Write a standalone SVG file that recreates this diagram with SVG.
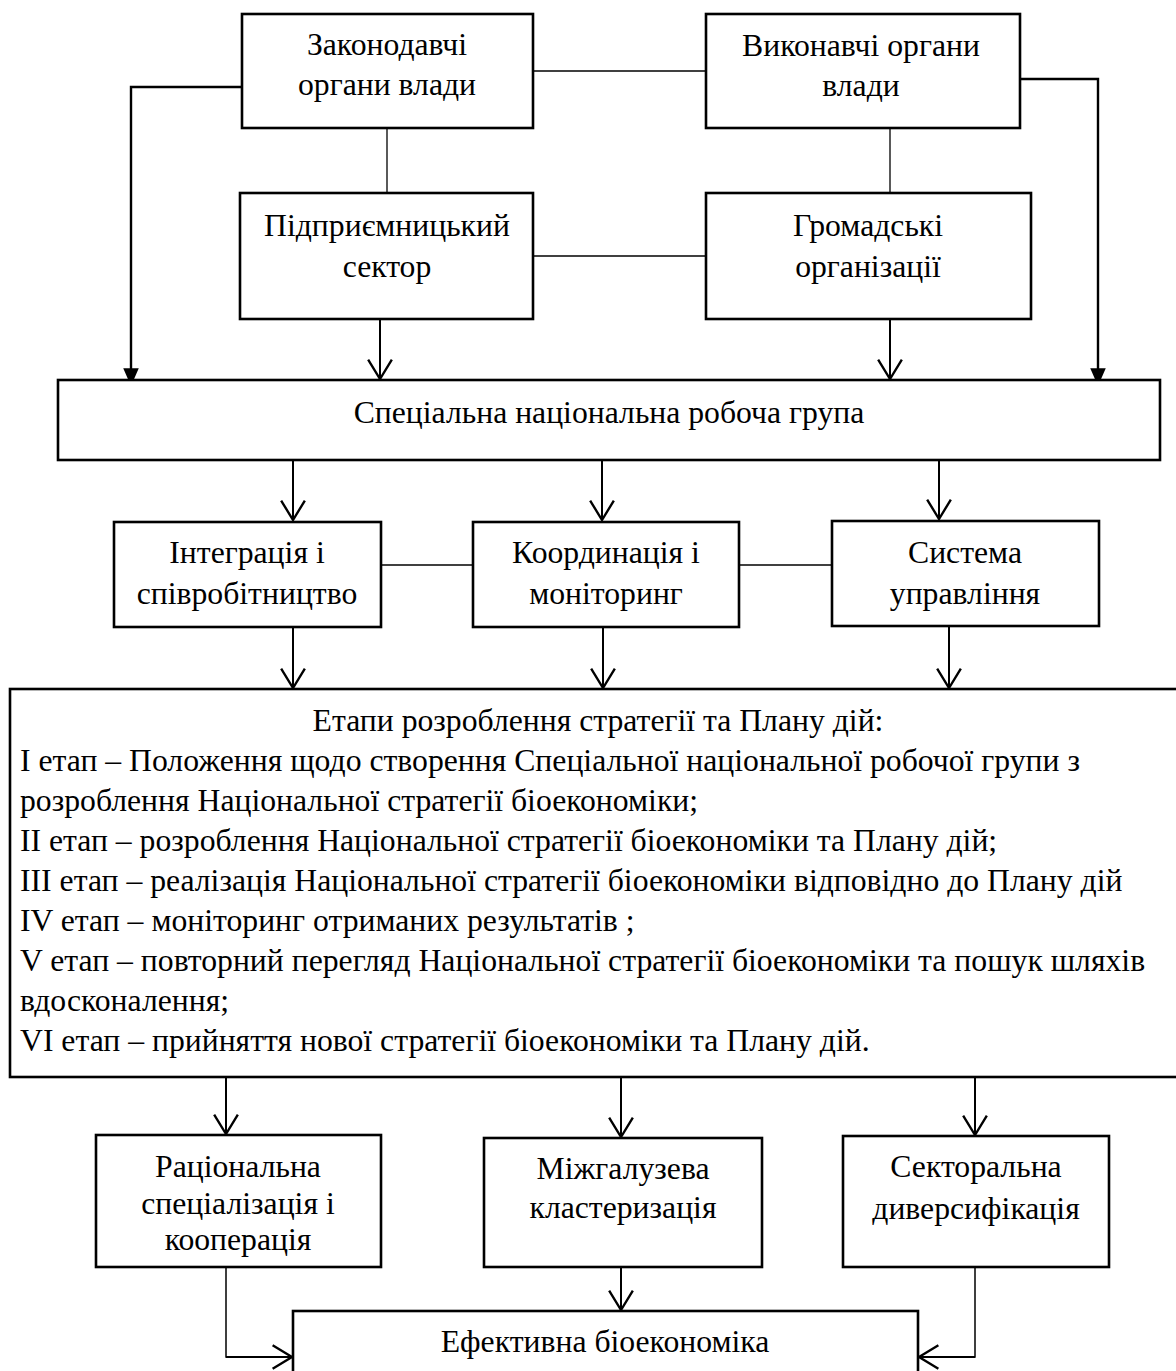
<svg xmlns="http://www.w3.org/2000/svg" width="1176" height="1371" viewBox="0 0 1176 1371">
  <style>
    .box { fill: #ffffff; stroke: #000000; stroke-width: 2.6; }
    text { font-family: "Liberation Serif", "Times New Roman", serif; font-size: 31.7px; fill: #000000; }
    .c { text-anchor: middle; }
    .link { stroke: #000000; stroke-width: 1.3; fill: none; }
    .arr { stroke: #000000; stroke-width: 2; fill: none; marker-end: url(#open); }
    .farr { stroke: #000000; stroke-width: 2.4; fill: none; marker-end: url(#solid); }
    .side { stroke: #000000; stroke-width: 1.5; fill: none; }
  </style>
  <defs>
    <marker id="open" markerUnits="userSpaceOnUse" markerWidth="24" markerHeight="28" viewBox="-20 -13 22 26" refX="0" refY="0" orient="auto" overflow="visible">
      <path d="M -18 -11 L 0 0 L -18 11" fill="none" stroke="#000000" stroke-width="2.2"/>
    </marker>
    <marker id="solid" markerUnits="userSpaceOnUse" markerWidth="20" markerHeight="20" viewBox="-17 -8 18 16" refX="0" refY="0" orient="auto" overflow="visible">
      <path d="M -16 -7 L 0 0 L -16 7 Z" fill="#000000" stroke="none"/>
    </marker>
  </defs>

  <rect width="1176" height="1371" fill="#ffffff"/>

  <!-- connectors -->
  <g id="connectors">
    <!-- plain links between partner bodies -->
    <line class="link" x1="533" y1="71" x2="706" y2="71"/>
    <line class="link" x1="387" y1="128" x2="387" y2="193"/>
    <line class="link" x1="890" y1="128" x2="890" y2="193"/>
    <line class="link" x1="533" y1="256" x2="706" y2="256"/>
    <line class="link" x1="381" y1="565" x2="473" y2="565"/>
    <line class="link" x1="739" y1="565" x2="832" y2="565"/>

    <!-- authorities feeding the working group -->
    <polyline class="farr" points="242,87 131,87 131,386"/>
    <polyline class="farr" points="1020,79 1098,79 1098,386"/>
    <line class="arr" x1="380" y1="319" x2="380" y2="379"/>
    <line class="arr" x1="890" y1="319" x2="890" y2="379"/>

    <!-- working group to its three functions -->
    <line class="arr" x1="293" y1="460" x2="293" y2="520"/>
    <line class="arr" x1="602" y1="460" x2="602" y2="520"/>
    <line class="arr" x1="939" y1="460" x2="939" y2="519"/>

    <!-- functions to the stages block -->
    <line class="arr" x1="293" y1="627" x2="293" y2="688"/>
    <line class="arr" x1="603" y1="627" x2="603" y2="688"/>
    <line class="arr" x1="949" y1="626" x2="949" y2="688"/>

    <!-- stages block to the three directions -->
    <line class="arr" x1="226" y1="1077" x2="226" y2="1134"/>
    <line class="arr" x1="621" y1="1077" x2="621" y2="1137"/>
    <line class="arr" x1="975" y1="1077" x2="975" y2="1135"/>

    <!-- directions to the result -->
    <polyline class="side" points="226,1267 226,1357 240,1357"/>
    <line class="arr" x1="226" y1="1357" x2="292" y2="1357"/>
    <line class="arr" x1="621" y1="1267" x2="621" y2="1310"/>
    <polyline class="side" points="975,1267 975,1357 960,1357"/>
    <line class="arr" x1="975" y1="1357" x2="919" y2="1357"/>
  </g>

  <g id="zakonodavchi">
    <rect class="box" x="242" y="14" width="291" height="114"/>
    <text class="c" x="387" y="55">Законодавчі</text>
    <text class="c" x="387" y="95">органи влади</text>
  </g>

  <g id="vykonavchi">
    <rect class="box" x="706" y="14" width="314" height="114"/>
    <text class="c" x="861" y="56">Виконавчі органи</text>
    <text class="c" x="861" y="96">влади</text>
  </g>

  <g id="pidpryiemnytskyi">
    <rect class="box" x="240" y="193" width="293" height="126"/>
    <text class="c" x="387" y="236">Підприємницький</text>
    <text class="c" x="387" y="277">сектор</text>
  </g>

  <g id="hromadski">
    <rect class="box" x="706" y="193" width="325" height="126"/>
    <text class="c" x="868" y="236">Громадські</text>
    <text class="c" x="868" y="277">організації</text>
  </g>

  <g id="robocha-hrupa">
    <rect class="box" x="58" y="380" width="1102" height="80"/>
    <text class="c" x="609" y="423">Спеціальна національна робоча група</text>
  </g>

  <g id="intehratsiia">
    <rect class="box" x="114" y="522" width="267" height="105"/>
    <text class="c" x="247" y="563">Інтеграція і</text>
    <text class="c" x="247" y="604">співробітництво</text>
  </g>

  <g id="koordynatsiia">
    <rect class="box" x="473" y="522" width="266" height="105"/>
    <text class="c" x="606" y="563">Координація і</text>
    <text class="c" x="606" y="604">моніторинг</text>
  </g>

  <g id="systema">
    <rect class="box" x="832" y="521" width="267" height="105"/>
    <text class="c" x="965" y="563">Система</text>
    <text class="c" x="965" y="604">управління</text>
  </g>

  <g id="etapy">
    <rect class="box" x="10" y="689" width="1180" height="388"/>
    <text class="c" x="598" y="731">Етапи розроблення стратегії та Плану дій:</text>
    <text x="20" y="771">I етап – Положення щодо створення Спеціальної національної робочої групи з</text>
    <text x="20" y="811">розроблення Національної стратегії біоекономіки;</text>
    <text x="20" y="851">II етап – розроблення Національної стратегії біоекономіки та Плану дій;</text>
    <text x="20" y="891">III етап – реалізація Національної стратегії біоекономіки відповідно до Плану дій</text>
    <text x="20" y="931">IV етап – моніторинг отриманих результатів ;</text>
    <text x="20" y="971">V етап – повторний перегляд Національної стратегії біоекономіки та пошук шляхів</text>
    <text x="20" y="1011">вдосконалення;</text>
    <text x="20" y="1051">VI етап – прийняття нової стратегії біоекономіки та Плану дій.</text>
  </g>

  <g id="ratsionalna">
    <rect class="box" x="96" y="1135" width="285" height="132"/>
    <text class="c" x="238" y="1177">Раціональна</text>
    <text class="c" x="238" y="1214">спеціалізація і</text>
    <text class="c" x="238" y="1250">кооперація</text>
  </g>

  <g id="mizhhaluzeva">
    <rect class="box" x="484" y="1138" width="278" height="129"/>
    <text class="c" x="623" y="1179">Міжгалузева</text>
    <text class="c" x="623" y="1218">кластеризація</text>
  </g>

  <g id="sektoralna">
    <rect class="box" x="843" y="1136" width="266" height="131"/>
    <text class="c" x="976" y="1177">Секторальна</text>
    <text class="c" x="976" y="1219">диверсифікація</text>
  </g>

  <g id="efektyvna">
    <rect class="box" x="293" y="1311" width="625" height="80"/>
    <text class="c" x="605" y="1352">Ефективна біоекономіка</text>
  </g>
</svg>
